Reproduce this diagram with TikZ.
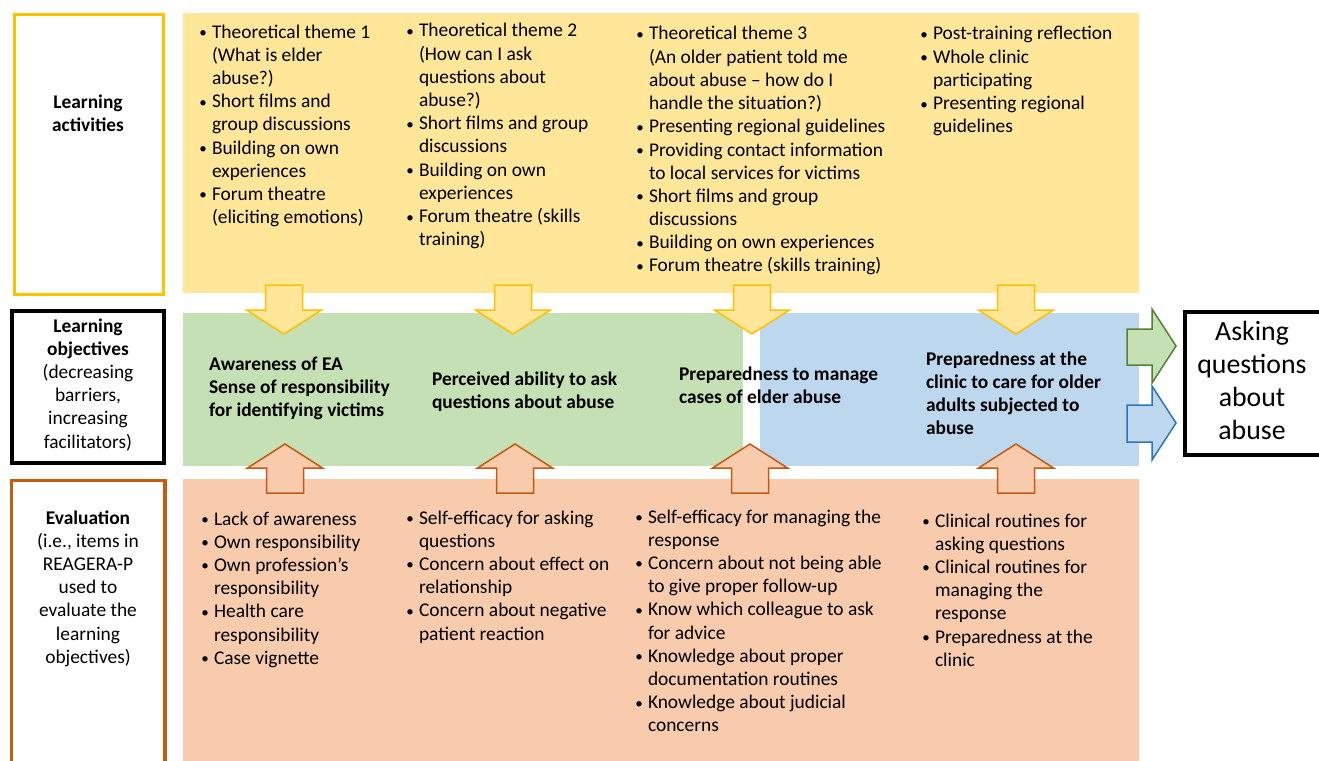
\documentclass[tikz,border=0pt]{standalone}
\usepackage{fontspec}
\setmainfont{Carlito}
\usepackage{array}
\definecolor{yfill}{HTML}{FFE699}
\definecolor{yline}{HTML}{FFC000}
\definecolor{gfill}{HTML}{C5E0B4}
\definecolor{gline}{HTML}{548235}
\definecolor{bfill}{HTML}{BDD7EE}
\definecolor{bline}{HTML}{2E75B6}
\definecolor{ofill}{HTML}{F8CBAD}
\definecolor{oline}{HTML}{C55A11}
\newcommand{\bul}{\makebox[18pt][c]{\raisebox{0.5pt}{\fontsize{15}{15}\selectfont •}}}
\newcommand{\dnarr}[1]{\draw[yarrow] (#1-18.5,285) -- (#1+18.5,285) -- (#1+18.5,310) -- (#1+37.5,310) -- (#1,334) -- (#1-37.5,310) -- (#1-18.5,310) -- cycle;}
\newcommand{\uparr}[1]{\draw[oarrow] (#1-18.5,493) -- (#1-18.5,468) -- (#1-37.5,468) -- (#1,444) -- (#1+37.5,468) -- (#1+18.5,468) -- (#1+18.5,493) -- cycle;}
\begin{document}
\begin{tikzpicture}[x=1pt,y=-1pt,
  band/.style={draw=none,rectangle,anchor=north west,inner sep=0pt,outer sep=0pt},
  lbox/.style={rectangle,anchor=north west,inner sep=0pt,outer sep=0pt,fill=white},
  body/.style={inner sep=0pt,outer sep=0pt,font=\fontsize{19.4}{23.2}\selectfont},
  list/.style={body,anchor=base west},
  boldlist/.style={list,font=\fontsize{19.4}{23.2}\selectfont\bfseries},
  yarrow/.style={draw=yline,fill=yfill,line width=1.5pt,line join=miter},
  oarrow/.style={draw=oline,fill=ofill,line width=1.5pt,line join=miter}]
\useasboundingbox (0,0) rectangle (1319,760);
\clip (0,0) rectangle (1319,760);
\fill[white] (0,0) rectangle (1319,760);
% bands
\node[band,fill=yfill,minimum width=956pt,minimum height=280pt] (yband) at (183,13) {};
\node[band,fill=gfill,minimum width=560pt,minimum height=153pt] (gband) at (183,313) {};
\node[band,fill=bfill,minimum width=379pt,minimum height=153pt] (bband) at (760,313) {};
\node[band,fill=ofill,minimum width=956pt,minimum height=300pt] (oband) at (183,479) {};
% left boxes
\node[lbox,draw=yline,line width=3.3pt,minimum width=148.6pt,minimum height=279.6pt] (actbox) at (14.7,14.7) {};
\node[lbox,draw=black,line width=4pt,minimum width=151.7pt,minimum height=152pt] (objbox) at (12,311) {};
\node[lbox,draw=oline,line width=3.3pt,minimum width=153.3pt,minimum height=320pt] (evbox) at (11.7,480.7) {};
% right box
\node[lbox,draw=black,line width=4pt,minimum width=220pt,minimum height=143pt] (askbox) at (1185,312) {};
% arrows
\dnarr{284}\dnarr{513}\dnarr{752}\dnarr{1016}
\uparr{285}\uparr{515}\uparr{750}\uparr{1016}
\draw[draw=gline,fill=gfill,line width=1.5pt] (1127,329) -- (1152,329) -- (1152,309) -- (1176,346) -- (1152,383) -- (1152,365) -- (1127,365) -- cycle;
\draw[draw=bline,fill=bfill,line width=1.5pt] (1127,405) -- (1152,405) -- (1152,386) -- (1176,423) -- (1152,460) -- (1152,442) -- (1127,442) -- cycle;
% left labels
\node[body,anchor=base] (actlab) at (88,108) {\begin{tabular}[t]{@{}c@{}}\textbf{Learning}\\\textbf{activities}\end{tabular}};
\node[body,anchor=base] (objlab) at (88,332) {\begin{tabular}[t]{@{}c@{}}\textbf{Learning}\\\textbf{objectives}\\(decreasing\\barriers,\\increasing\\facilitators)\end{tabular}};
\node[body,anchor=base] (evlab) at (88,524) {\begin{tabular}[t]{@{}c@{}}\textbf{Evaluation}\\(i.e., items in\\REAGERA-P\\used to\\evaluate the\\learning\\objectives)\end{tabular}};
% right label
\node[inner sep=0pt,anchor=base,font=\fontsize{27.8}{33.3}\selectfont] (asklab) at (1252,340) {\begin{tabular}[t]{@{}c@{}}Asking\\questions\\about\\abuse\end{tabular}};
% top lists
\node[list] (act1) at (212-18,38) {\begin{tabular}[t]{@{}l@{}l@{}}
\bul&Theoretical theme 1\\&(What is elder\\&abuse?)\\
\bul&Short films and\\&group discussions\\
\bul&Building on own\\&experiences\\
\bul&Forum theatre\\&(eliciting emotions)\end{tabular}};
\node[list] (act2) at (419-18,37) {\begin{tabular}[t]{@{}l@{}l@{}}
\bul&Theoretical theme 2\\&(How can I ask\\&questions about\\&abuse?)\\
\bul&Short films and group\\&discussions\\
\bul&Building on own\\&experiences\\
\bul&Forum theatre (skills\\&training)\end{tabular}};
\node[list] (act3) at (649-18,40) {\begin{tabular}[t]{@{}l@{}l@{}}
\bul&Theoretical theme 3\\&(An older patient told me\\&about abuse – how do I\\&handle the situation?)\\
\bul&Presenting regional guidelines\\
\bul&Providing contact information\\&to local services for victims\\
\bul&Short films and group\\&discussions\\
\bul&Building on own experiences\\
\bul&Forum theatre (skills training)\end{tabular}};
\node[list] (act4) at (933-18,40) {\begin{tabular}[t]{@{}l@{}l@{}}
\bul&Post-training reflection\\
\bul&Whole clinic\\&participating\\
\bul&Presenting regional\\&guidelines\end{tabular}};
% objectives
\node[boldlist] (obj1) at (209,370) {\begin{tabular}[t]{@{}l@{}}Awareness of EA\\Sense of responsibility\\for identifying victims\end{tabular}};
\node[boldlist] (obj2) at (432,385) {\begin{tabular}[t]{@{}l@{}}Perceived ability to ask\\questions about abuse\end{tabular}};
\node[boldlist] (obj3) at (679,380) {\begin{tabular}[t]{@{}l@{}}Preparedness to manage\\cases of elder abuse\end{tabular}};
\node[boldlist] (obj4) at (926,365) {\begin{tabular}[t]{@{}l@{}}Preparedness at the\\clinic to care for older\\adults subjected to\\abuse\end{tabular}};
% evaluation lists
\node[list] (ev1) at (214-18,525) {\begin{tabular}[t]{@{}l@{}l@{}}
\bul&Lack of awareness\\
\bul&Own responsibility\\
\bul&Own profession’s\\&responsibility\\
\bul&Health care\\&responsibility\\
\bul&Case vignette\end{tabular}};
\node[list] (ev2) at (419-18,524) {\begin{tabular}[t]{@{}l@{}l@{}}
\bul&Self-efficacy for asking\\&questions\\
\bul&Concern about effect on\\&relationship\\
\bul&Concern about negative\\&patient reaction\end{tabular}};
\node[list] (ev3) at (648-18,523) {\begin{tabular}[t]{@{}l@{}l@{}}
\bul&Self-efficacy for managing the\\&response\\
\bul&Concern about not being able\\&to give proper follow-up\\
\bul&Know which colleague to ask\\&for advice\\
\bul&Knowledge about proper\\&documentation routines\\
\bul&Knowledge about judicial\\&concerns\end{tabular}};
\node[list] (ev4) at (935-18,527) {\begin{tabular}[t]{@{}l@{}l@{}}
\bul&Clinical routines for\\&asking questions\\
\bul&Clinical routines for\\&managing the\\&response\\
\bul&Preparedness at the\\&clinic\end{tabular}};
\end{tikzpicture}
\end{document}
